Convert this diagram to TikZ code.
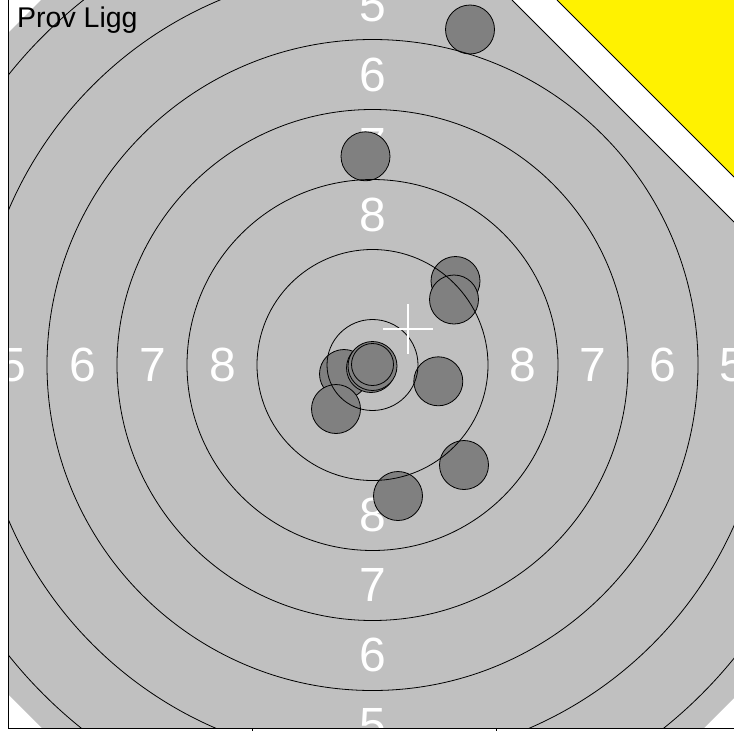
\documentclass[tikz,border=0pt]{standalone}
\usepackage{fontspec}
\setmainfont{Liberation Sans}
\usepackage{xcolor}
\definecolor{grigio}{HTML}{C0C0C0}
\definecolor{foro}{HTML}{808080}

\begin{document}
\begin{tikzpicture}[x=1pt,y=-1pt,
    anello/.style={black,line width=0.8pt},
    colpo/.style={draw=black,fill=foro,line width=0.8pt},
    cifra/.style={white,inner sep=0pt,font=\fontsize{48}{48}\selectfont}]

\useasboundingbox (0,0) rectangle (734,731);

%========================
% Fondo del bersaglio
%========================

\begin{scope}
\clip (8.5,0) rectangle (734,728);

% zona grigia
\fill[grigio] (8,33) -- (41,0) -- (512,0) -- (734,222) -- (734,698)
    -- (704,728) -- (42,728) -- (8,694) -- cycle;
\draw[line width=0.8pt] (512,0) -- (734,222);

% triangolo giallo
\fill[yellow] (557,0) -- (734,0) -- (734,177) -- cycle;
\draw[line width=0.8pt] (557,0) -- (734,177);

% numeri
\begin{scope}[shift={(372.5,365)}]
\foreach \n/\d in {8/150,7/220,6/290,5/360}
{
    \node[cifra] (su\n) at (0,-\d) {\n};
    \node[cifra] (giu\n) at (0,\d) {\n};
    \node[cifra] (sx\n) at (-\d,0) {\n};
    \node[cifra] (dx\n) at (\d,0) {\n};
}
\end{scope}

%========================
% Colpi
%========================

\foreach \x/\y in {470/29.5,365.5/156.3,455.5/281,454/299.5,438.3/381.3,
    344/374,336/409,464/465,398/496,371/368,372.5/366}
{
    \draw[colpo] (\x,\y) circle (24.5pt);
}
\draw[colpo] (372.5,364.5) circle (21pt);

%========================
% Anelli
%========================

\clip (8,33) -- (41,0) -- (512,0) -- (734,222) -- (734,698)
    -- (704,728) -- (42,728) -- (8,694) -- cycle;
\begin{scope}[shift={(372.5,365)}]
\foreach \r in {45.5,115.5,185.5,255.5,325.5,395.5,465.5}
{
    \draw[anello] (0,0) circle (\r pt);
}
\end{scope}
\end{scope}

% mirino
\draw[white,line width=1.5pt] (383,329) -- (433,329) (408,304) -- (408,354);

%========================
% Assi
%========================

\draw[line width=0.8pt] (8.5,0) -- (8.5,728.5) -- (734,728.5);
\draw[line width=0.6pt] (252,728.5) -- (252,731) (496,728.5) -- (496,731);

% etichetta
\node[anchor=base west,inner sep=0pt,font=\fontsize{28.5}{30}\selectfont]
    (titolo) at (17,27) {Prov Ligg};
\end{tikzpicture}
\end{document}
